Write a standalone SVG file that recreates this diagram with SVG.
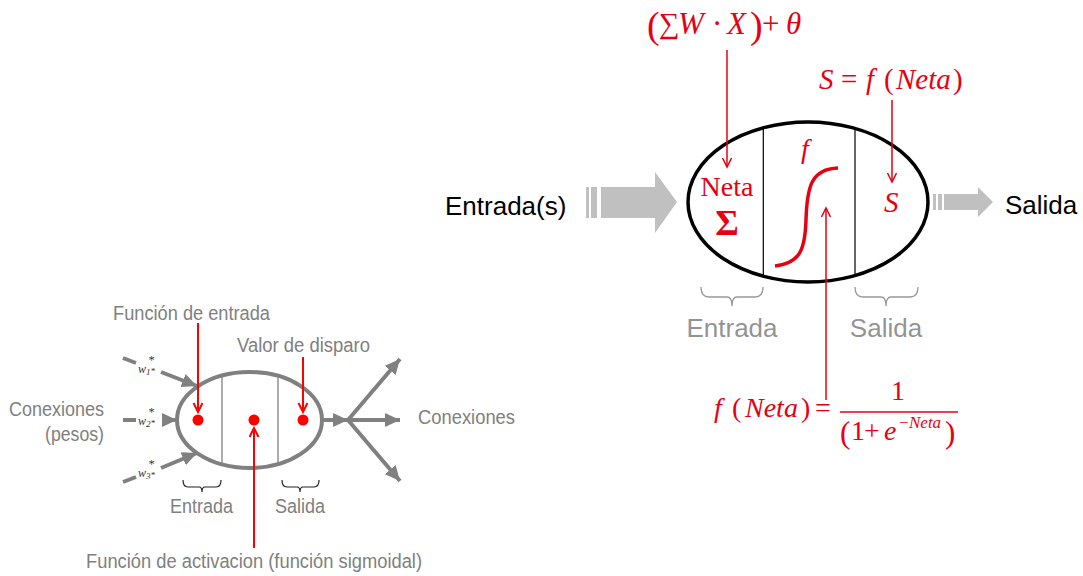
<svg xmlns="http://www.w3.org/2000/svg" width="1083" height="576" viewBox="0 0 1083 576">
<style>
.g{font-family:"Liberation Sans",Arial,sans-serif;fill:#808080}
.k{font-family:"Liberation Sans",Arial,sans-serif;fill:#000}
.m{font-family:"Liberation Serif","Times New Roman",serif;fill:#e60012}
.i{font-style:italic}
.w{font-family:"Liberation Serif","Times New Roman",serif;font-style:italic;fill:#333;font-size:12px}
.ra{stroke:#f00;stroke-width:2;fill:none}
.rb{stroke:#e60012;stroke-width:1.5;fill:none}
.ga{stroke:#808080;stroke-width:4;fill:none}
.br{fill:none;stroke:#999;stroke-width:1.3}
.bk{fill:none;stroke:#222;stroke-width:1.2}
</style>
<defs>
<marker id="rv" markerWidth="12" markerHeight="12" refX="10" refY="5" orient="auto" markerUnits="userSpaceOnUse">
<polyline points="1,0.5 10,5 1,9.5" fill="none" stroke="#e60012" stroke-width="1.5"/>
</marker>
<marker id="rv2" markerWidth="12" markerHeight="12" refX="10" refY="5" orient="auto" markerUnits="userSpaceOnUse">
<polyline points="1,0.5 10,5 1,9.5" fill="none" stroke="#f00" stroke-width="2"/>
</marker>
<marker id="gt" markerWidth="16" markerHeight="14" refX="15" refY="7" orient="auto" markerUnits="userSpaceOnUse">
<polygon points="0,0 15,7 0,14" fill="#808080"/>
</marker>
</defs>

<!-- RIGHT DIAGRAM -->
<g id="input-arrow">
<rect x="586" y="187" width="3" height="31" fill="#c0c0c0"/>
<rect x="591" y="187" width="6" height="31" fill="#c0c0c0"/>
<polygon points="601,187 655,187 655,172 677,202 655,233 655,218 601,218" fill="#c0c0c0"/>
<text class="k" x="445" y="215" font-size="26">Entrada(s)</text>
</g>
<g id="output-arrow">
<rect x="933" y="194" width="3" height="16" fill="#c0c0c0"/>
<rect x="938" y="194" width="4" height="16" fill="#c0c0c0"/>
<polygon points="944,194 978,194 978,187 993,202 978,217 978,210 944,210" fill="#c0c0c0"/>
<text class="k" x="1005" y="214" font-size="26">Salida</text>
</g>
<g id="neuron">
<ellipse cx="808" cy="202" rx="120" ry="80" fill="#fff" stroke="#000" stroke-width="3.5"/>
<line x1="763.3" y1="127.8" x2="763.3" y2="276.2" stroke="#000" stroke-width="1.2"/>
<line x1="855" y1="128.4" x2="855" y2="275.6" stroke="#000" stroke-width="1.2"/>
<text class="m" x="727" y="196" font-size="28" text-anchor="middle">Neta</text>
<text class="m" x="727" y="235" font-size="36" font-weight="bold" text-anchor="middle">Σ</text>
<text class="m i" x="801" y="158" font-size="28">f</text>
<text class="m i" x="884" y="212" font-size="29">S</text>
<path d="M775,266 C800,263 805,250 806,220 C807,185 812,169 838,168" fill="none" stroke="#e60012" stroke-width="3.5"/>
</g>
<g id="braces-right">
<path class="br" d="M701,287 Q701,297 709,297 L727,297 Q732,297 732,306 Q732,297 737,297 L755,297 Q763,297 763,287"/>
<path class="br" d="M855,287 Q855,297 863,297 L881,297 Q886,297 886,306 Q886,297 891,297 L910,297 Q918,297 918,287"/>
<text class="g" x="732" y="337" font-size="26" text-anchor="middle" fill-opacity="0.85">Entrada</text>
<text class="g" x="886" y="337" font-size="26" text-anchor="middle" fill-opacity="0.85">Salida</text>
</g>
<g id="formula-net">
<text class="m" font-size="31"><tspan x="647" font-size="38" y="38">(</tspan><tspan x="659" y="33" font-size="29">∑</tspan><tspan x="678" y="34" class="i">W</tspan><tspan x="712" y="34">·</tspan><tspan x="727" y="34" class="i">X</tspan><tspan x="750" font-size="38" y="38">)</tspan><tspan x="762" y="34">+</tspan><tspan x="786" y="34" class="i">θ</tspan></text>
</g>
<g id="formula-out">
<text class="m" y="89" font-size="29"><tspan x="819" class="i">S</tspan><tspan x="841">=</tspan><tspan x="866" class="i">f</tspan><tspan x="884">(</tspan><tspan x="896" class="i">Neta</tspan><tspan x="953">)</tspan></text>
</g>
<g id="formula-sigmoid">
<text class="m" y="417" font-size="28"><tspan x="714" class="i">f</tspan><tspan x="732">(</tspan><tspan x="745" class="i">Neta</tspan><tspan x="801">)</tspan><tspan x="815">=</tspan></text>
<text class="m" x="898" y="400" font-size="28" text-anchor="middle">1</text>
<line x1="840" y1="412" x2="958" y2="412" stroke="#e60012" stroke-width="1.5"/>
<text class="m" y="440" font-size="28"><tspan x="840" font-size="31" y="443">(</tspan><tspan x="851" y="440">1</tspan><tspan x="864" y="440">+</tspan><tspan x="884" y="440" class="i">e</tspan><tspan x="899" y="428" font-size="17">−</tspan><tspan x="909" y="428" font-size="17" class="i">Neta</tspan><tspan x="945" font-size="31" y="443">)</tspan></text>
</g>
<g id="connectors-right">
<line class="rb" x1="727" y1="50" x2="727" y2="167" marker-end="url(#rv)"/>
<line class="rb" x1="892" y1="100" x2="892" y2="182" marker-end="url(#rv)"/>
<line class="rb" x1="826" y1="400" x2="826" y2="208" marker-end="url(#rv)"/>
</g>

<!-- LEFT DIAGRAM -->
<g id="small-neuron">
<ellipse cx="249.5" cy="420" rx="72.5" ry="48" fill="#fff" stroke="#808080" stroke-width="4"/>
<line x1="222" y1="375.6" x2="222" y2="464.4" stroke="#808080" stroke-width="1.3"/>
<line x1="278" y1="375.9" x2="278" y2="464.1" stroke="#808080" stroke-width="1.3"/>
<circle cx="198" cy="420" r="5.5" fill="#f00"/>
<circle cx="254" cy="420" r="5.5" fill="#f00"/>
<circle cx="303" cy="420" r="5.5" fill="#f00"/>
</g>
<g id="small-labels">
<text class="g" x="113" y="320" font-size="20" textLength="157" lengthAdjust="spacingAndGlyphs">Función de entrada</text>
<text class="g" x="237" y="352" font-size="20" textLength="133" lengthAdjust="spacingAndGlyphs">Valor de disparo</text>
<text class="g" x="104" y="416" font-size="20" text-anchor="end" textLength="95" lengthAdjust="spacingAndGlyphs">Conexiones</text>
<text class="g" x="104" y="441" font-size="20" text-anchor="end" textLength="59" lengthAdjust="spacingAndGlyphs">(pesos)</text>
<text class="g" x="418" y="424" font-size="20" textLength="97" lengthAdjust="spacingAndGlyphs">Conexiones</text>
<text class="g" x="170" y="513" font-size="20" textLength="63" lengthAdjust="spacingAndGlyphs">Entrada</text>
<text class="g" x="275" y="513" font-size="20" textLength="50" lengthAdjust="spacingAndGlyphs">Salida</text>
<text class="g" x="86" y="568" font-size="20" textLength="336" lengthAdjust="spacingAndGlyphs">Función de activacion (función sigmoidal)</text>
<path class="bk" d="M183,480 Q183,487 188,487 L199,487 Q202,487 202,492 Q202,487 205,487 L216,487 Q221,487 221,480"/>
<path class="bk" d="M282,480 Q282,487 287,487 L297,487 Q300,487 300,492 Q300,487 303,487 L314,487 Q319,487 319,480"/>
</g>
<g id="weights">
<text class="w" x="138" y="373">w<tspan font-size="9" dy="2">1</tspan><tspan font-size="9" dy="-1">*</tspan></text>
<text class="w" x="148" y="364" font-size="9">*</text>
<text class="w" x="138" y="425">w<tspan font-size="9" dy="2">2</tspan><tspan font-size="9" dy="-1">*</tspan></text>
<text class="w" x="148" y="416" font-size="9">*</text>
<text class="w" x="138" y="477">w<tspan font-size="9" dy="2">3</tspan><tspan font-size="9" dy="-1">*</tspan></text>
<text class="w" x="148" y="468" font-size="9">*</text>
</g>
<g id="connectors-left">
<line class="ga" x1="123" y1="358" x2="136" y2="363"/>
<line class="ga" x1="161" y1="372" x2="197" y2="386" marker-end="url(#gt)"/>
<line class="ga" x1="123" y1="420" x2="136" y2="420"/>
<line class="ga" x1="162" y1="420" x2="177" y2="420" marker-end="url(#gt)"/>
<line class="ga" x1="123" y1="482" x2="136" y2="477"/>
<line class="ga" x1="161" y1="468" x2="197" y2="453" marker-end="url(#gt)"/>
<line class="ga" x1="322" y1="420" x2="348" y2="420" marker-end="url(#gt)"/>
<line class="ga" x1="348" y1="420" x2="400" y2="359" marker-end="url(#gt)"/>
<line class="ga" x1="348" y1="420" x2="400" y2="420" marker-end="url(#gt)"/>
<line class="ga" x1="348" y1="420" x2="400" y2="481" marker-end="url(#gt)"/>
<line class="ra" x1="198" y1="323" x2="198" y2="412" marker-end="url(#rv2)"/>
<line class="ra" x1="303" y1="357" x2="303" y2="412" marker-end="url(#rv2)"/>
<line class="ra" x1="254" y1="548" x2="254" y2="428" marker-end="url(#rv2)"/>
</g>
</svg>
